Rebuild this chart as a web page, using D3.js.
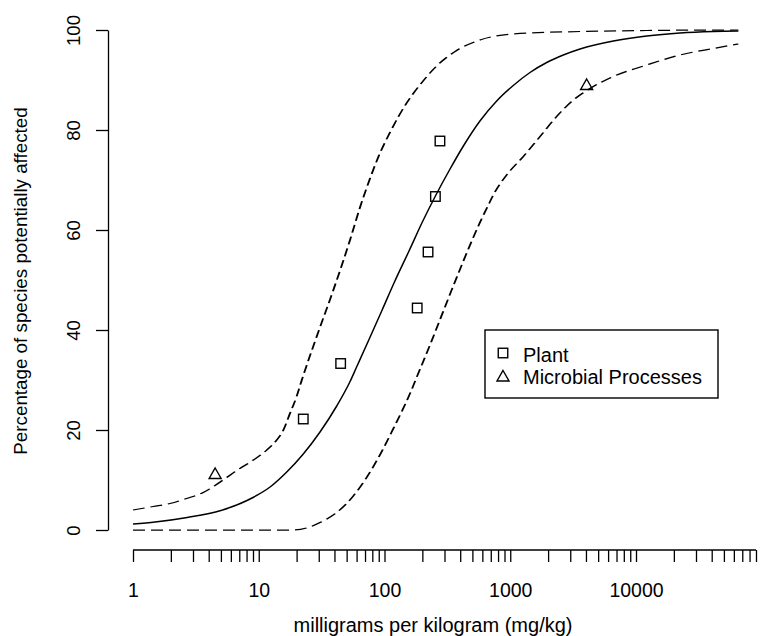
<!DOCTYPE html>
<html>
<head>
<meta charset="utf-8">
<script src="https://cdn.jsdelivr.net/npm/d3@7"></script>
<style>
  html, body { margin: 0; padding: 0; background: #fff; }
  svg { display: block; }
  text { font-family: "Liberation Sans", Arial, sans-serif; fill: #000; }
</style>
</head>
<body>
<svg id="chart" width="760" height="636"></svg>
<script>
// ---- Data ----
// Fitted species sensitivity curve (mg/kg, % affected)
const fitX = [1, 1.5, 2.7, 5, 9, 12.3, 16.7, 22.6, 30.7, 41.7, 53, 60, 75, 95, 120, 158, 200, 254, 332, 424, 574, 780, 1057, 1435, 1950, 2642, 3589, 6607, 12160, 22390, 41210, 65160];
const fitY = [1.2, 1.6, 2.5, 3.9, 6.5, 8.6, 11.6, 15.2, 19.6, 24.8, 29.6, 32.6, 38.0, 43.8, 49.6, 56.0, 61.6, 66.8, 72.2, 76.8, 81.8, 85.8, 88.9, 91.5, 93.5, 95.0, 96.2, 97.8, 98.8, 99.4, 99.7, 99.8];
// Upper confidence limit
const upperX = [1, 1.45, 1.97, 2.67, 3.62, 5.07, 6.68, 9.06, 11.6, 13.9, 15.7, 17.7, 20.0, 22.0, 28.9, 39.2, 53.2, 63.8, 76.7, 89.3, 111, 150, 191, 260, 375, 574, 1057, 3589, 12160, 65160];
const upperY = [4.0, 4.7, 5.3, 6.3, 7.5, 9.8, 11.9, 14.0, 16.0, 18.0, 20.0, 23.3, 26.7, 30.0, 38.7, 48.0, 58.0, 64.5, 70.3, 74.6, 79.6, 85.4, 89.0, 92.8, 95.9, 98.0, 99.2, 99.7, 99.9, 100];
// Lower confidence limit
const lowerX = [1, 18.8, 24.0, 30.7, 41.7, 56.5, 72.1, 93.3, 115, 164, 180, 230, 294, 375, 479, 574, 670, 733, 935, 1271, 1726, 2339, 3177, 4305, 6607, 12160, 22390, 41210, 65160];
const lowerY = [0, 0, 0.4, 1.5, 3.5, 6.8, 10.5, 15.3, 19.8, 28.0, 30.5, 37.0, 43.8, 50.5, 57.0, 61.5, 65.0, 67.0, 71.0, 74.7, 78.7, 82.7, 86.0, 88.3, 90.7, 93.0, 95.0, 96.3, 97.2];
// Observed species points
const plantX = [22.6, 44.8, 182, 222, 254, 276];
const plantY = [22.2, 33.3, 44.4, 55.6, 66.7, 77.8];
const microbeX = [4.5, 4050];
const microbeY = [11.1, 88.9];
// Axis ticks
const yTicks = [0, 20, 40, 60, 80, 100];
const xMajor = [1, 10, 100, 1000, 10000];
const xTicks = [1,2,3,4,5,6,7,8,9,10,20,30,40,50,60,70,80,90,100,200,300,400,500,600,700,800,900,1000,2000,3000,4000,5000,6000,7000,8000,9000,10000,20000,30000,40000,50000,60000,70000,80000,90000];
const legendLabels = ["Plant", "Microbial Processes"];
const xTitle = "milligrams per kilogram (mg/kg)";
const yTitle = "Percentage of species potentially affected";

// ---- Scales ----
const svg = d3.select("#chart");
const x = d3.scaleLog().domain([1, 100000]).range([133, 761.75]);
const y = d3.scaleLinear().domain([0, 100]).range([530, 30]);

// ---- Curves ----
const zip = (a, b) => a.map((v, i) => [v, b[i]]);
const line = d3.line().x(d => x(d[0])).y(d => y(d[1])).curve(d3.curveMonotoneX);

svg.append("path").datum(zip(fitX, fitY)).attr("d", line)
  .attr("fill", "none").attr("stroke", "#000").attr("stroke-width", 1.5);

// dashed limits: drawn in a horizontally stretched frame so that the dashes
// are longer on flat stretches than on steep ones, as in the reference raster
const sx = 1.5;
const dline = d3.line().x(d => x(d[0]) / sx).y(d => y(d[1])).curve(d3.curveMonotoneX);
const dg = svg.append("g").attr("transform", `scale(${sx},1)`);
[zip(upperX, upperY), zip(lowerX, lowerY)].forEach(pts => {
  dg.append("path").datum(pts).attr("d", dline)
    .attr("fill", "none").attr("stroke", "#000").attr("stroke-width", 1.25)
    .attr("stroke-dasharray", "8,4");
});

// ---- Points ----
const sq = 9.5;
svg.selectAll("rect.plant").data(zip(plantX, plantY)).enter().append("rect")
  .attr("class", "plant")
  .attr("x", d => x(d[0]) - sq / 2).attr("y", d => y(d[1]) - sq / 2)
  .attr("width", sq).attr("height", sq)
  .attr("fill", "none").attr("stroke", "#000").attr("stroke-width", 1.4);

const tri = (cx, cy) => {
  const w = 12, h = 10.5;
  return `M${cx},${cy - h * 0.62}L${cx + w / 2},${cy + h * 0.38}L${cx - w / 2},${cy + h * 0.38}Z`;
};
svg.selectAll("path.microbe").data(zip(microbeX, microbeY)).enter().append("path")
  .attr("class", "microbe")
  .attr("d", d => tri(x(d[0]), y(d[1])))
  .attr("fill", "none").attr("stroke", "#000").attr("stroke-width", 1.4);

// ---- X axis ----
const gx = svg.append("g").attr("transform", "translate(0,550)");
gx.call(d3.axisBottom(x).tickValues(xTicks).tickSize(12)
  .tickFormat(d => xMajor.includes(d) ? d3.format("d")(d) : ""));
gx.select(".domain").remove();
gx.append("line")
  .attr("x1", x(xTicks[0])).attr("x2", x(xTicks[xTicks.length - 1]))
  .attr("y1", 0).attr("y2", 0).attr("stroke", "#000").attr("stroke-width", 1.3);
gx.selectAll(".tick line").attr("stroke", "#000").attr("stroke-width", 1.3);
gx.selectAll(".tick text").attr("y", 47).attr("dy", "0")
  .style("font-size", "19.5px").style("font-family", "'Liberation Sans', Arial, sans-serif");

// ---- Y axis ----
const gy = svg.append("g").attr("transform", "translate(108,0)");
gy.call(d3.axisLeft(y).tickValues(yTicks).tickSize(12).tickSizeOuter(0));
gy.select(".domain").attr("stroke", "#000").attr("stroke-width", 1.3);
gy.selectAll(".tick line").attr("stroke", "#000").attr("stroke-width", 1.3);
gy.selectAll(".tick text")
  .attr("x", null).attr("dy", "0").attr("text-anchor", "middle")
  .attr("transform", "translate(-28,0) rotate(-90)")
  .style("font-size", "18.5px").style("font-family", "'Liberation Sans', Arial, sans-serif");

// ---- Titles ----
svg.append("text").text(xTitle)
  .attr("x", 433).attr("y", 632).attr("text-anchor", "middle")
  .style("font-size", "20px");
svg.append("text").text(yTitle)
  .attr("transform", "translate(27,281) rotate(-90)").attr("text-anchor", "middle")
  .style("font-size", "18.8px");

// ---- Legend ----
const lg = svg.append("g");
lg.append("rect").attr("x", 485).attr("y", 330).attr("width", 233).attr("height", 68)
  .attr("fill", "#fff").attr("stroke", "#000").attr("stroke-width", 1.4);
lg.append("rect").attr("x", 503 - sq / 2).attr("y", 353 - sq / 2).attr("width", sq).attr("height", sq)
  .attr("fill", "none").attr("stroke", "#000").attr("stroke-width", 1.4);
lg.append("path").attr("d", tri(503, 377))
  .attr("fill", "none").attr("stroke", "#000").attr("stroke-width", 1.4);
lg.selectAll("text.lab").data(legendLabels).enter().append("text")
  .attr("class", "lab")
  .attr("x", 523).attr("y", (d, i) => 362 + i * 22)
  .style("font-size", "20px").text(d => d);
</script>
</body>
</html>
